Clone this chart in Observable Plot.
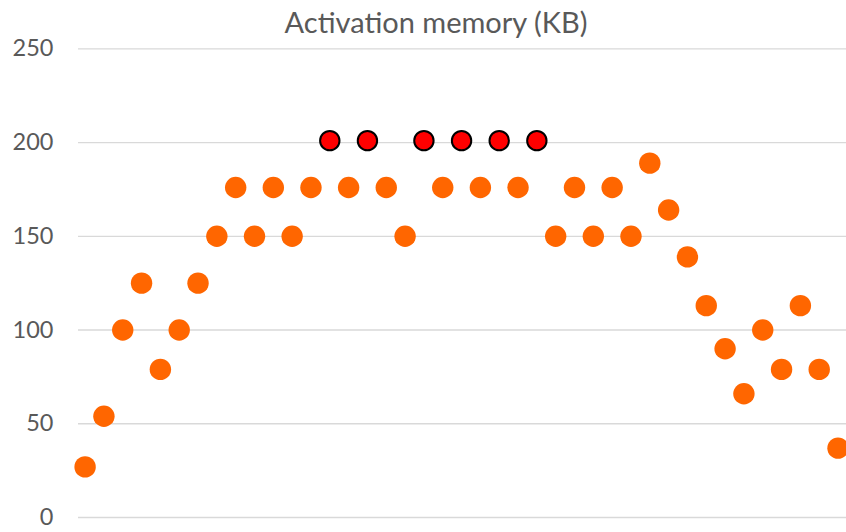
<!DOCTYPE html>
<html>
<head>
<meta charset="utf-8">
<script src="https://cdn.jsdelivr.net/npm/d3@7"></script>
<script src="https://cdn.jsdelivr.net/npm/@observablehq/plot@0.6"></script>
<style>
  html, body { margin: 0; padding: 0; background: #fff; }
  #chart { width: 846px; height: 532px; position: relative; }
  #title {
    height: 40px;
    line-height: 44px;
    padding-left: 26px;
    text-align: center;
    font-family: Lato, "Open Sans", sans-serif;
    font-size: 29px;
    color: #595959;
    white-space: nowrap;
  }
</style>
</head>
<body>
<div id="chart">
  <div id="title">Activation memory (KB)</div>
</div>
<script>
// Activation memory per layer, in KB
const layers = d3.range(41);
const memoryKB = [
  27, 54, 100, 125, 79, 100, 125, 150, 176, 150,
  176, 150, 176, 201, 176, 201, 176, 150, 201, 176,
  201, 176, 201, 176, 201, 150, 176, 150, 176, 150,
  189, 164, 139, 113, 90, 66, 100, 79, 113, 79,
  37
];
// Layers at the peak memory footprint
const peakLayers = [13, 15, 18, 20, 22, 24];
const yTicks = [0, 50, 100, 150, 200, 250];

const rows = layers.map((i) => ({layer: i, kb: memoryKB[i], peak: peakLayers.includes(i)}));

const plot = Plot.plot({
  width: 846,
  height: 492,
  marginTop: 8.3,
  marginBottom: 15,
  marginLeft: 78,
  marginRight: 0,
  style: {
    fontFamily: "Lato, 'Open Sans', sans-serif",
    fontSize: "23.5px",
    color: "#595959",
    background: "transparent",
    overflow: "visible"
  },
  x: {domain: [-0.35, 40.45], axis: null},
  y: {domain: [0, 250], ticks: yTicks, tickSize: 0, tickPadding: 25, label: null},
  marks: [
    Plot.ruleY(yTicks, {stroke: "#d9d9d9", strokeWidth: 1.3}),
    Plot.dot(rows.filter((d) => !d.peak), {x: "layer", y: "kb", r: 10.7, fill: "#ff6600", stroke: "none"}),
    Plot.dot(rows.filter((d) => d.peak), {x: "layer", y: "kb", r: 9.7, fill: "#ff0000", stroke: "#000000", strokeWidth: 2})
  ]
});
document.getElementById("chart").appendChild(plot);
</script>
</body>
</html>
